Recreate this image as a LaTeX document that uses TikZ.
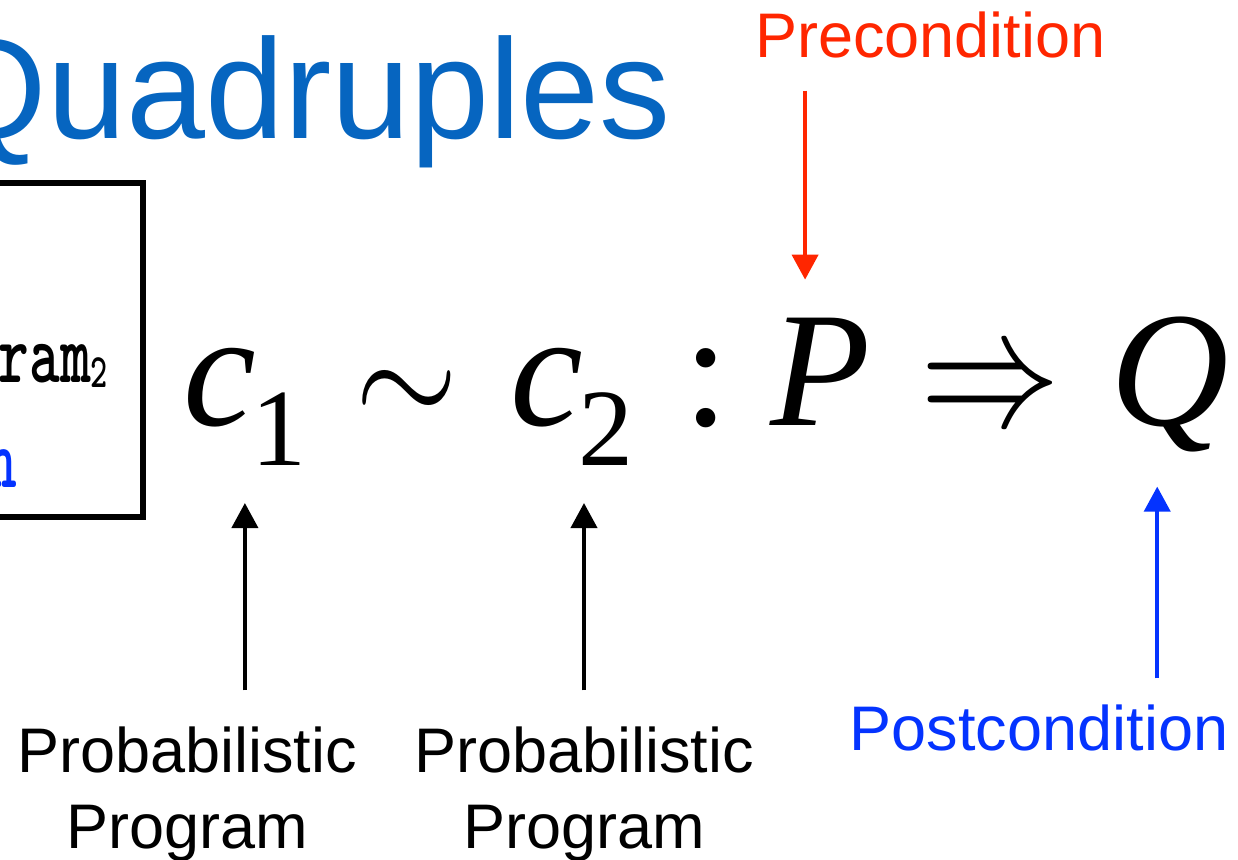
\documentclass[tikz,border=0pt]{standalone}
\usepackage{fontspec}
\setmainfont{Liberation Sans}
\newfontfamily\timesfont{Liberation Serif}
\usetikzlibrary{arrows.meta,calc}
\definecolor{title_blue}{RGB}{6,101,192}
\definecolor{pre_red}{RGB}{255,38,0}
\definecolor{post_blue}{RGB}{4,51,255}
\newcommand{\lowdigit}[1]{\raisebox{-20pt}{\upshape\fontsize{55}{55}\selectfont #1}}
\newcommand{\typetext}[1]{\scalebox{0.68}[1]{\ttfamily\bfseries\fontsize{43}{43}\selectfont #1}}

\begin{document}
\begin{tikzpicture}[x=0.5pt, y=-0.5pt,
    every node/.style={inner sep=0pt, outer sep=0pt},
    caption/.style={font=\fontsize{31.5}{38}\selectfont, align=center, anchor=base},
    formula/.style={font=\fontsize{82}{82}\selectfont\timesfont, anchor=base west},
    pointer/.style={line width=2pt, -{Triangle[length=12.5pt, width=13pt]}}]

    \useasboundingbox (0,0) rectangle (1238,859);
    \clip (0,0) rectangle (1238,859);

    % Title
    \node[anchor=base east, text=title_blue, font=\fontsize{71}{71}\selectfont] (title) at (671,138) {Quadruples};

    % Box on the left
    \node[draw, line width=2.75pt, minimum width=91.5pt, minimum height=167pt, anchor=north east] (box) at (143,183) {};
    \node[anchor=base east] (boxprog) at (108,382) {\typetext{ram}\raisebox{-2.5pt}{\typetext{\fontsize{24}{24}\selectfont 2}}};
    \node[anchor=base east, text=post_blue] (boxnote) at (17,487) {\typetext{n}};

    % Formula
    \node[formula] (c1) at (183,425) {\itshape c\kern-2pt\lowdigit{1}};
    \node[anchor=base] (sim) at (407,425) {\scalebox{6.6}[7.5]{$\sim$}};
    \node[formula] (c2) at (510,425) {\itshape c\kern-2pt\lowdigit{2}};
    \node[formula] (colon) at (683,425) {:};
    \node[formula] (P) at (770,425) {\itshape P};
    \node[anchor=base] (imp) at (990,425) {\scalebox{7}[8.5]{$\Rightarrow$}};
    \node[formula] (Q) at (1110,425) {\itshape Q};

    % Labels
    \node[caption, text=pre_red, anchor=base west] (pre) at (755,57) {Precondition};
    \node[caption] (prog1) at (187,848) {Probabilistic\\Program};
    \node[caption] (prog2) at (584,848) {Probabilistic\\Program};
    \node[caption, text=post_blue] (post) at (1039,750) {Postcondition};

    % Arrows
    \coordinate (preTip) at ($(P.north)+(-15,-38)$);
    \coordinate (postTip) at ($(Q.south)+(-12,35)$);
    \draw[pointer] ([yshift=18pt]prog1.north -| c1.south) -- ([yshift=-19pt]c1.south);
    \draw[pointer] ([yshift=18pt]prog2.north) -- ([yshift=-19pt]prog2.north |- c2.south);
    \draw[pointer, pre_red, shorten <=16.5pt] (pre.south -| preTip) -- (preTip);
    \draw[pointer, post_blue, shorten <=13pt] (post.north -| postTip) -- (postTip);
\end{tikzpicture}
\end{document}
